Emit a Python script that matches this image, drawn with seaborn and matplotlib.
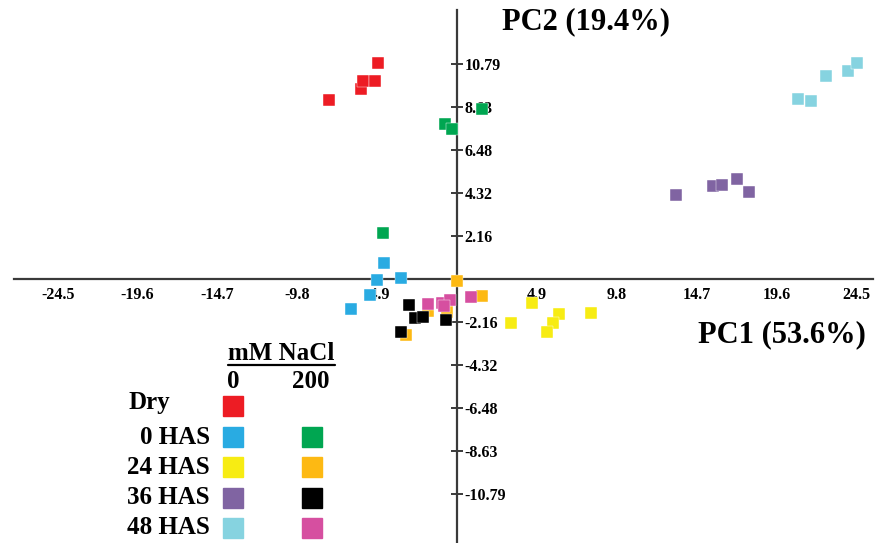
import numpy as np
import pandas as pd
import matplotlib
matplotlib.use("Agg")
import matplotlib.pyplot as plt
import seaborn as sns
from matplotlib.patches import Rectangle
from matplotlib.lines import Line2D

# PCA scores, one pair of arrays per group
dry_0_x = [-7.85, -5.89, -5.77, -5.03, -4.85]
dry_0_y = [9.00, 9.55, 9.95, 9.95, 10.85]
has0_0_x = [-4.48, -4.91, -3.44, -5.34, -6.50]
has0_0_y = [0.80, -0.05, 0.05, -0.80, -1.51]
has0_200_x = [-0.74, -0.31, 1.53, -4.54]
has0_200_y = [7.79, 7.54, 8.54, 2.31]
has24_0_x = [4.60, 3.31, 6.26, 5.89, 5.52, 8.22]
has24_0_y = [-1.21, -2.21, -1.76, -2.21, -2.66, -1.71]
has24_200_x = [0.00, 1.53, -1.78, -0.61, -3.13]
has24_200_y = [-0.10, -0.85, -1.61, -1.66, -2.81]
has36_0_x = [13.44, 15.71, 16.26, 17.18, 17.91]
has36_0_y = [4.22, 4.67, 4.72, 5.03, 4.37]
has36_200_x = [-2.94, -2.58, -2.09, -0.67, -3.44]
has36_200_y = [-1.31, -1.96, -1.91, -2.06, -2.66]
has48_0_x = [20.92, 21.72, 22.64, 23.99, 24.54]
has48_0_y = [9.05, 8.94, 10.20, 10.45, 10.85]
has48_200_x = [-1.78, -0.92, -0.43, 0.86, -0.80]
has48_200_y = [-1.26, -1.21, -1.06, -0.90, -1.36]

groups = ["Dry 0", "0 HAS 0", "0 HAS 200", "24 HAS 0", "24 HAS 200",
          "36 HAS 0", "36 HAS 200", "48 HAS 0", "48 HAS 200"]
colors = ["#ED1C24", "#29ABE2", "#00A651", "#F7EC13", "#FDB913",
          "#8064A2", "#000000", "#86D3E0", "#D64FA0"]
xs = [dry_0_x, has0_0_x, has0_200_x, has24_0_x, has24_200_x,
      has36_0_x, has36_200_x, has48_0_x, has48_200_x]
ys = [dry_0_y, has0_0_y, has0_200_y, has24_0_y, has24_200_y,
      has36_0_y, has36_200_y, has48_0_y, has48_200_y]

xticks = [-24.5, -19.6, -14.7, -9.8, -4.9, 4.9, 9.8, 14.7, 19.6, 24.5]
yticks = [-10.79, -8.63, -6.48, -4.32, -2.16, 2.16, 4.32, 6.48, 8.63, 10.79]

row_labels = ["Dry", "0 HAS", "24 HAS", "36 HAS", "48 HAS"]
col0 = ["#ED1C24", "#29ABE2", "#F7EC13", "#8064A2", "#86D3E0"]
col200 = [None, "#00A651", "#FDB913", "#000000", "#D64FA0"]

df = pd.DataFrame({
    "PC1": np.concatenate(xs),
    "PC2": np.concatenate(ys),
    "group": np.repeat(groups, [len(v) for v in xs]),
})

sns.set_style("white")
plt.rcParams["font.family"] = ["Liberation Serif", "DejaVu Serif"]
plt.rcParams["font.weight"] = "bold"
plt.rcParams["text.color"] = "black"
plt.rcParams["xtick.color"] = "black"
plt.rcParams["ytick.color"] = "black"

fig = plt.figure(figsize=(8.88, 5.43), dpi=100)
ax = fig.add_axes([0, 0, 1, 1])
sns.scatterplot(data=df, x="PC1", y="PC2", hue="group", hue_order=groups,
                palette=colors, marker="s", s=80, linewidth=0.3,
                edgecolor="white", legend=False, ax=ax, zorder=3)

ax.set_xlim(-28.04, 26.44)
ax.set_ylim(-13.27, 14.02)
ax.set_xlabel("")
ax.set_ylabel("")
ax.spines["top"].set_visible(False)
ax.spines["left"].set_visible(False)
ax.spines["right"].set_position(("data", 0))
ax.spines["bottom"].set_position(("data", 0))
ax.spines["right"].set_bounds(-13.3, 13.5)
ax.spines["bottom"].set_bounds(-27.2, 25.5)
for side in ["right", "bottom"]:
    ax.spines[side].set_color("#3a3a3a")
    ax.spines[side].set_linewidth(1.6)
    ax.spines[side].set_zorder(2)

ax.yaxis.set_ticks_position("right")
ax.set_xticks(xticks)
ax.set_xticklabels([f"{v:g}" for v in xticks])
ax.set_yticks(yticks)
ax.set_yticklabels([f"{v:.2f}" for v in yticks])
ax.tick_params(axis="x", direction="inout", length=10, width=1.4,
               color="#3a3a3a", labelcolor="black", labelsize=11.5, pad=1)
ax.tick_params(axis="y", direction="inout", length=9, width=1.4,
               color="#3a3a3a", labelcolor="black", labelsize=11.5, pad=1)
for lab in ax.get_xticklabels() + ax.get_yticklabels():
    lab.set_fontweight("bold")

ax.text(502 / 888, 1 - 22 / 543, "PC2 (19.4%)", transform=ax.transAxes,
        fontsize=22, fontweight="bold", color="black", ha="left", va="center")
ax.text(698 / 888, 1 - 335 / 543, "PC1 (53.6%)", transform=ax.transAxes,
        fontsize=22, fontweight="bold", color="black", ha="left", va="center")


# legend table, placed in figure pixels
def fx(px):
    return px / 888


def fy(py):
    return 1 - py / 543


fig.text(fx(281), fy(354), "mM NaCl", fontsize=18, fontweight="bold",
         color="black", ha="center", va="center")
fig.add_artist(Line2D([fx(228), fx(335)], [fy(365), fy(365)],
                      transform=fig.transFigure, color="black", lw=1.6))
fig.text(fx(233), fy(382), "0", fontsize=18, fontweight="bold",
         color="black", ha="center", va="center")
fig.text(fx(311), fy(382), "200", fontsize=18, fontweight="bold",
         color="black", ha="center", va="center")

row_y = [406, 437, 467, 498, 528]
for lab, py, c0, c2 in zip(row_labels, row_y, col0, col200):
    if lab == "Dry":
        fig.text(fx(128), fy(py - 3), lab, fontsize=18, fontweight="bold",
                 color="black", ha="left", va="center")
    else:
        fig.text(fx(210), fy(py), lab, fontsize=18, fontweight="bold",
                 color="black", ha="right", va="center")
    for cx, c in [(233, c0), (312, c2)]:
        if c is None:
            continue
        fig.add_artist(Rectangle((fx(cx - 10), fy(py + 10)), fx(20), 20 / 543,
                                 transform=fig.transFigure, color=c))

fig.savefig("out.png", dpi=100)
